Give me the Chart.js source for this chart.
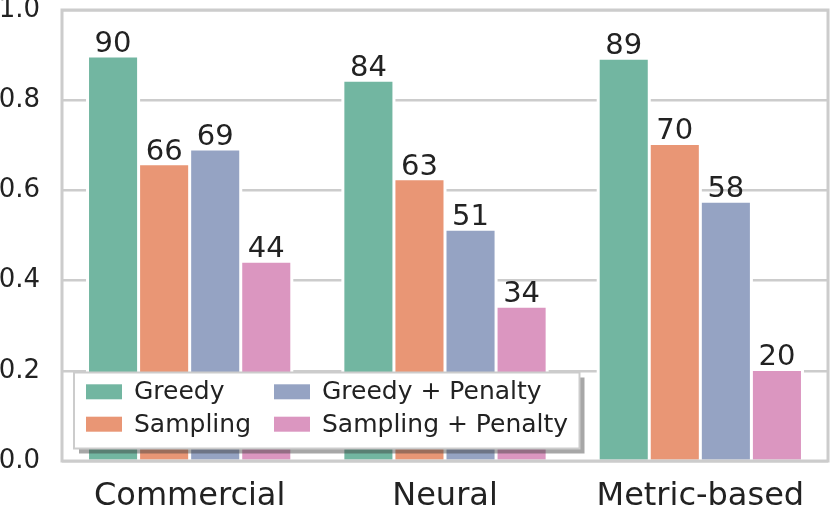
<!DOCTYPE html>
<html><head><meta charset="utf-8">
<script src="https://cdn.jsdelivr.net/npm/chart.js@4/dist/chart.umd.min.js"></script>
<style>html,body{margin:0;padding:0;background:#fff;} #wrap{width:830px;height:515px;position:relative;}</style>
</head><body><div id="wrap"><canvas id="c" width="830" height="515"></canvas></div>
<script>
const categories = ['Commercial', 'Neural', 'Metric-based'];
const seriesNames = ['Greedy', 'Sampling', 'Greedy + Penalty', 'Sampling + Penalty'];
const greedy = [0.898, 0.844, 0.893];
const sampling = [0.659, 0.626, 0.704];
const greedyPenalty = [0.692, 0.514, 0.576];
const samplingPenalty = [0.443, 0.343, 0.203];
const yTickValues = [0.0, 0.2, 0.4, 0.6, 0.8, 1.0];
const yTickLabels = ['0.0', '0.2', '0.4', '0.6', '0.8', '1.0'];
const colors = ['#72b6a1', '#e99675', '#95a3c3', '#db96c0'];

const FONT = "'DejaVu Sans', sans-serif";
const TEXT = '#222222';
const series = [greedy, sampling, greedyPenalty, samplingPenalty];

const haloPlugin = {
  id: 'halo',
  beforeDatasetsDraw(chart) {
    const ctx = chart.ctx;
    ctx.save();
    ctx.fillStyle = '#ffffff';
    chart.data.datasets.forEach((ds, i) => {
      chart.getDatasetMeta(i).data.forEach(bar => {
        const p = bar.getProps(['x', 'y', 'base', 'width'], true);
        ctx.fillRect(p.x - p.width / 2 - 1.5, p.y - 1.5, p.width + 3, p.base - p.y + 1.5);
      });
    });
    ctx.restore();
  }
};

const framePlugin = {
  id: 'frameLabels',
  afterDatasetsDraw(chart) {
    const ctx = chart.ctx;
    const a = chart.chartArea;
    ctx.save();
    ctx.fillStyle = TEXT;
    ctx.font = '29px ' + FONT;
    ctx.textAlign = 'center';
    ctx.textBaseline = 'alphabetic';
    chart.data.datasets.forEach((ds, i) => {
      chart.getDatasetMeta(i).data.forEach((bar, j) => {
        const p = bar.getProps(['x', 'y'], true);
        ctx.fillText(String(Math.round(ds.data[j] * 100)), p.x, p.y - 4);
      });
    });
    ctx.strokeStyle = '#cccccc';
    ctx.lineWidth = 3;
    ctx.strokeRect(a.left, a.top, a.right - a.left, a.bottom - a.top);
    ctx.restore();
  }
};

const legendPlugin = {
  id: 'customLegend',
  afterDraw(chart) {
    const ctx = chart.ctx;
    const bx = 74, by = 372.5, bw = 505.5, bh = 76;
    ctx.save();
    ctx.fillStyle = 'rgba(60,60,60,0.45)';
    ctx.fillRect(bx + 5, by + 5, bw, bh);
    ctx.fillStyle = '#ffffff';
    ctx.fillRect(bx, by, bw, bh);
    ctx.strokeStyle = '#cccccc';
    ctx.lineWidth = 2;
    ctx.strokeRect(bx, by, bw, bh);
    const colX = [86, 274];
    const textX = [134, 322];
    const rowY = [391.8, 424.2];
    ctx.font = '25px ' + FONT;
    ctx.textBaseline = 'middle';
    ctx.textAlign = 'left';
    chart.data.datasets.forEach((ds, i) => {
      const col = Math.floor(i / 2), row = i % 2;
      ctx.fillStyle = ds.backgroundColor;
      ctx.fillRect(colX[col], rowY[row] - 7.5, 36, 15);
      ctx.fillStyle = TEXT;
      ctx.fillText(ds.label, textX[col], rowY[row] + 1);
    });
    ctx.restore();
  }
};

new Chart(document.getElementById('c'), {
  type: 'bar',
  data: {
    labels: categories,
    datasets: series.map((d, i) => ({
      label: seriesNames[i],
      data: d,
      backgroundColor: colors[i],
      borderColor: '#ffffff',
      borderWidth: 1.5,
      categoryPercentage: 0.8,
      barPercentage: 1.0
    }))
  },
  options: {
    responsive: false,
    animation: false,
    devicePixelRatio: 1,
    layout: { padding: { top: 10, right: 2, left: 0, bottom: 0 } },
    plugins: { legend: { display: false }, tooltip: { enabled: false } },
    scales: {
      x: {
        offset: true,
        grid: { display: false, drawTicks: false },
        border: { display: false },
        ticks: { color: TEXT, font: { family: FONT, size: 32 }, padding: 16, maxRotation: 0 },
        afterFit(s) { s.height = 54; s.paddingLeft = 0; s.paddingRight = 0; }
      },
      y: {
        min: 0, max: 1.0,
        grid: { color: '#cccccc', lineWidth: 2.5, drawTicks: false },
        border: { display: false },
        afterBuildTicks(s) { s.ticks = yTickValues.map(v => ({ value: v })); },
        ticks: {
          color: TEXT, font: { family: FONT, size: 26 }, padding: 22,
          callback(v) { const k = yTickValues.indexOf(v); return k >= 0 ? yTickLabels[k] : ''; }
        },
        afterFit(s) { s.width = 62; s.paddingTop = 0; s.paddingBottom = 0; }
      }
    }
  },
  plugins: [haloPlugin, framePlugin, legendPlugin]
});
</script></body></html>
